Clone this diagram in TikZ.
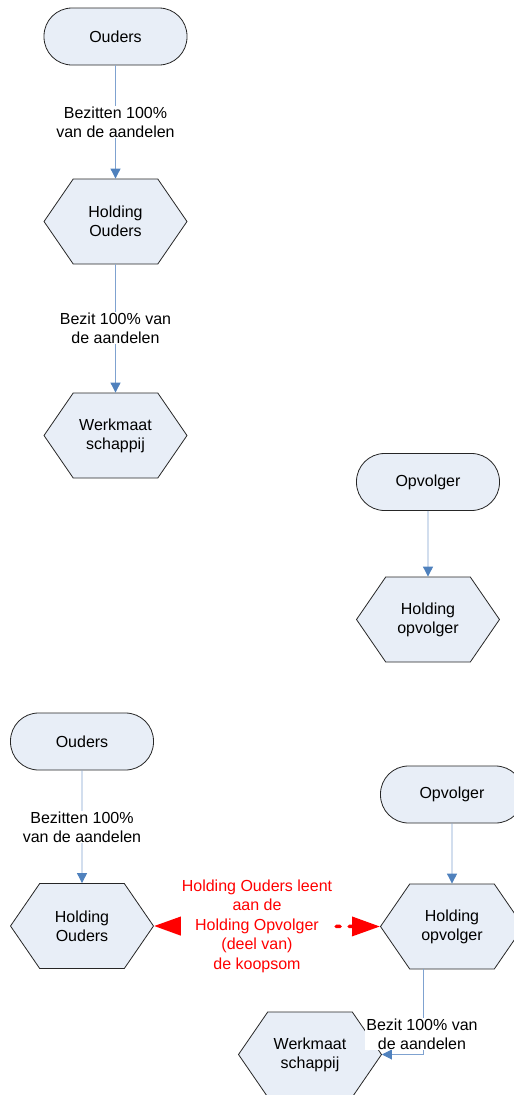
\documentclass[tikz,border=0pt]{standalone}
\usepackage{fontspec}
\setmainfont{Liberation Sans}
\usetikzlibrary{shapes.symbols,arrows.meta}
\definecolor{shapefill}{HTML}{E8EEF7}
\definecolor{linkblue}{HTML}{4F81BD}
\definecolor{linklight}{HTML}{7FA2D0}
\definecolor{loanred}{HTML}{FF0000}
\tikzset{
  base/.style={draw=black!85, line width=0.8pt, fill=shapefill, align=center,
    font=\fontsize{16}{19}\selectfont, inner sep=0pt},
  terminator/.style={base, rectangle, rounded corners=28pt,
    minimum width=143pt, minimum height=57pt},
  hexbox/.style={base, signal, signal to=west and east, signal pointer angle=111,
    minimum width=143pt, minimum height=85pt},
  link/.style={draw=linklight, line width=0.9pt,
    -{Triangle[length=10pt,width=10pt,fill=linkblue,color=linkblue]}},
  linklabel/.style={fill=white, align=center, inner sep=1pt,
    font=\fontsize{16}{19}\selectfont},
  loan/.style={draw=loanred, line width=3.5pt, line cap=round,
    dash pattern=on 4pt off 9pt, dash phase=1pt,
    {Triangle[length=28pt,width=19pt,color=loanred,fill=loanred,line cap=butt]}-{Triangle[length=28pt,width=19pt,color=loanred,fill=loanred,line cap=butt]}},
  loanlabel/.style={fill=white, align=center, inner sep=1pt, text=loanred,
    font=\fontsize{16}{19.5}\selectfont}
}
\begin{document}
\begin{tikzpicture}[x=1pt,y=-1pt]
\useasboundingbox (0,0) rectangle (514,1095);

% current situation: parents
\node[terminator] (o1) at (115.5,36.5) {Ouders};
\node[hexbox] (ho1) at (115.5,221.5) {Holding\\Ouders};
\node[hexbox] (wm1) at (115.5,435.5) {Werkmaat\\schappij};
\draw[link] (o1) -- (ho1);
\draw[link] (ho1) -- (wm1);
\node[linklabel] (l1) at (115.5,122) {Bezitten 100\%\\van de aandelen};
\node[linklabel] (l2) at (115.5,328) {Bezit 100\% van\\de aandelen};

% successor
\node[terminator] (op1) at (428,482) {Opvolger};
\node[hexbox] (hp1) at (428,619.5) {Holding\\opvolger};
\draw[link] (op1) -- (hp1);

% after the sale
\node[terminator] (o2) at (82,741.5) {Ouders};
\node[hexbox] (ho2) at (82,926) {Holding\\Ouders};
\draw[link] (o2) -- (ho2);
\node[linklabel] (l3) at (82,827) {Bezitten 100\%\\van de aandelen};

\node[terminator] (op2) at (452,794.5) {Opvolger};
\node[hexbox] (hp2) at (452,926.5) {Holding\\opvolger};
\draw[link] (op2) -- (hp2);

\node[hexbox] (wm2) at (310,1054.5) {Werkmaat\\schappij};
\coordinate (bend) at (423,1054.5);
\draw[link] (hp2.south -| bend) -- (bend) -- (wm2.east);
\node[linklabel] (l4) at (422,1034) {Bezit 100\% van\\de aandelen};

% loan between the holdings
\draw[loan] (ho2.east) -- (hp2.west);
\node[loanlabel] (loan) at (257,926) {Holding Ouders leent\\aan de\\Holding Opvolger\\(deel van)\\de koopsom};
\end{tikzpicture}
\end{document}
